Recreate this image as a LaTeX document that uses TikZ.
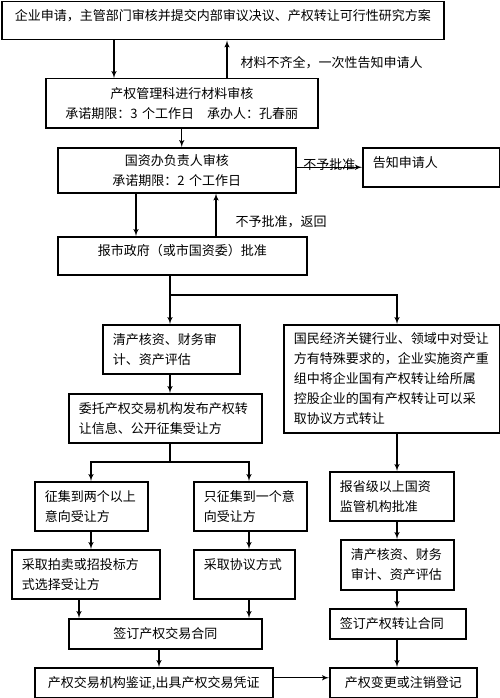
\documentclass[tikz,border=0pt]{standalone}
\usepackage{fontspec}
\setmainfont{Noto Sans CJK SC}
\usetikzlibrary{arrows}
\tikzstyle{block} = [draw,rectangle,line width=1.5pt,anchor=north west,inner xsep=10pt,inner ysep=0pt,font=\fontsize{13}{20}\selectfont]
\tikzstyle{connector} = [->,line width=1.4pt]
\tikzstyle{line} = [line width=1.4pt]
\tikzstyle{note} = [font=\fontsize{13}{16}\selectfont,inner sep=1pt]

\begin{document}
\begin{tikzpicture}[x=1pt, y=-1pt, >=latex']
    \useasboundingbox (0,0) rectangle (500,698);
    % node placement at fixed coordinates (top left corner of each box)
    \node[block, align=center, text width=422pt, minimum height=38pt, text height=11pt, text depth=11pt] (apply) at (1,1)
        {企业申请，主管部门审核并提交内部审议决议、产权转让可行性研究方案};
    \node[block, align=center, text width=252pt, minimum height=49pt] (check) at (45,78)
        {产权管理科进行材料审核\\ 承诺期限：3 个工作日\quad 承办人：孔春丽};
    \node[block, align=center, text width=218pt, minimum height=45pt] (review) at (57,147)
        {国资办负责人审核\\ 承诺期限：2 个工作日};
    \node[block, align=left, text width=117pt, minimum height=39pt, text height=11pt, text depth=10pt] (notify) at (362,147)
        {告知申请人};
    \node[block, align=center, text width=229pt, minimum height=38pt, text height=11pt, text depth=12pt] (report) at (57,236)
        {报市政府（或市国资委）批准};
    % left branch
    \node[block, align=left, text width=117pt, minimum height=49pt] (audit) at (102,324)
        {清产核资、财务审\\ 计、资产评估};
    \node[block, align=left, text width=173pt, minimum height=49pt] (publish) at (68,393)
        {委托产权交易机构发布产权转\\ 让信息、公开征集受让方};
    \node[block, align=left, text width=93pt, minimum height=49pt] (multi) at (34,481)
        {征集到两个以上\\ 意向受让方};
    \node[block, align=left, text width=93pt, minimum height=49pt] (single) at (193,481)
        {只征集到一个意\\ 向受让方};
    \node[block, align=left, text width=128pt, minimum height=49pt] (auction) at (11,549)
        {采取拍卖或招投标方\\ 式选择受让方};
    \node[block, align=left, text width=81pt, minimum height=49pt, text height=11pt, text depth=21pt] (agree) at (193,549)
        {采取协议方式};
    \node[block, align=center, text width=173pt, minimum height=30pt] (sign) at (68,618)
        {签订产权交易合同};
    \node[block, align=center, text width=218pt, minimum height=30pt] (verify) at (34,667)
        {产权交易机构鉴证,出具产权交易凭证};
    % right branch
    \node[block, align=left, text width=196pt, minimum height=108pt] (special) at (283,324)
        {国民经济关键行业、领域中对受让\\ 方有特殊要求的，企业实施资产重\\ 组中将企业国有产权转让给所属\\ 控股企业的国有产权转让可以采\\ 取协议方式转让};
    \node[block, align=left, text width=104pt, minimum height=49pt] (province) at (329,471)
        {报省级以上国资\\ 监管机构批准};
    \node[block, align=left, text width=93pt, minimum height=50pt] (audit2) at (340,539)
        {清产核资、财务\\ 审计、资产评估};
    \node[block, align=left, text width=116pt, minimum height=30pt] (contract) at (329,608)
        {签订产权转让合同};
    \node[block, align=center, text width=127pt, minimum height=30pt] (register) at (329,667)
        {产权变更或注销登记};
    \coordinate (split) at (170,295);
    \coordinate (fork) at (170,462);

    % now link the nodes
    \draw [connector] ([xshift=69pt]check.north west |- apply.south) -- ([xshift=69pt]check.north west);
    \draw [connector] ([xshift=182pt]check.north west) -- ([xshift=182pt]check.north west |- apply.south)
        node[note, right, pos=0.4, xshift=12pt] {材料不齐全，一次性告知申请人};
    \draw [connector] (check.south) -- (check.south |- review.north);
    \draw [connector] ([yshift=3pt]review.east) -- ([yshift=3pt]review.east -| notify.west)
        node[note, above, midway, yshift=-5pt] {不予批准};
    \draw [connector] ([xshift=79pt]review.south west) -- ([xshift=79pt]review.south west |- report.north);
    \draw [connector] ([xshift=159pt]report.north west) -- ([xshift=159pt]report.north west |- review.south)
        node[note, right, pos=0.33, xshift=18pt] {不予批准，返回};
    \draw [line] (split |- report.south) -- (split);
    \draw [connector] (split) -- (split |- audit.north);
    \draw [connector] (split) -| ([xshift=114pt]special.north west);
    \draw [connector] (split |- audit.south) -- (split |- publish.north);
    \draw [line] (fork |- publish.south) -- (fork);
    \draw [connector] (fork) -| ([xshift=57pt]multi.north west);
    \draw [connector] (fork) -| ([xshift=56pt]single.north west);
    \draw [connector] ([xshift=57pt]multi.south west) -- ([xshift=57pt]multi.south west |- auction.north);
    \draw [connector] ([xshift=56pt]single.south west) -- ([xshift=56pt]single.south west |- agree.north);
    \draw [connector] ([xshift=68pt]auction.south west) -- ([xshift=68pt]auction.south west |- sign.north);
    \draw [connector] ([xshift=56pt]agree.south west) -- ([xshift=56pt]agree.south west |- sign.north);
    \draw [connector] ([xshift=91pt]sign.south west) -- ([xshift=91pt]sign.south west |- verify.north);
    \draw [connector] ([xshift=114pt]special.south west) -- ([xshift=114pt]special.south west |- province.north);
    \draw [connector] ([xshift=68pt]province.south west) -- ([xshift=68pt]province.south west |- audit2.north);
    \draw [connector] ([xshift=57pt]audit2.south west) -- ([xshift=57pt]audit2.south west |- contract.north);
    \draw [connector] ([xshift=68pt]contract.south west) -- ([xshift=68pt]contract.south west |- register.north);
    \draw [connector] ([yshift=5pt]verify.east) -- ([yshift=5pt]verify.east -| register.west);
\end{tikzpicture}
\end{document}
